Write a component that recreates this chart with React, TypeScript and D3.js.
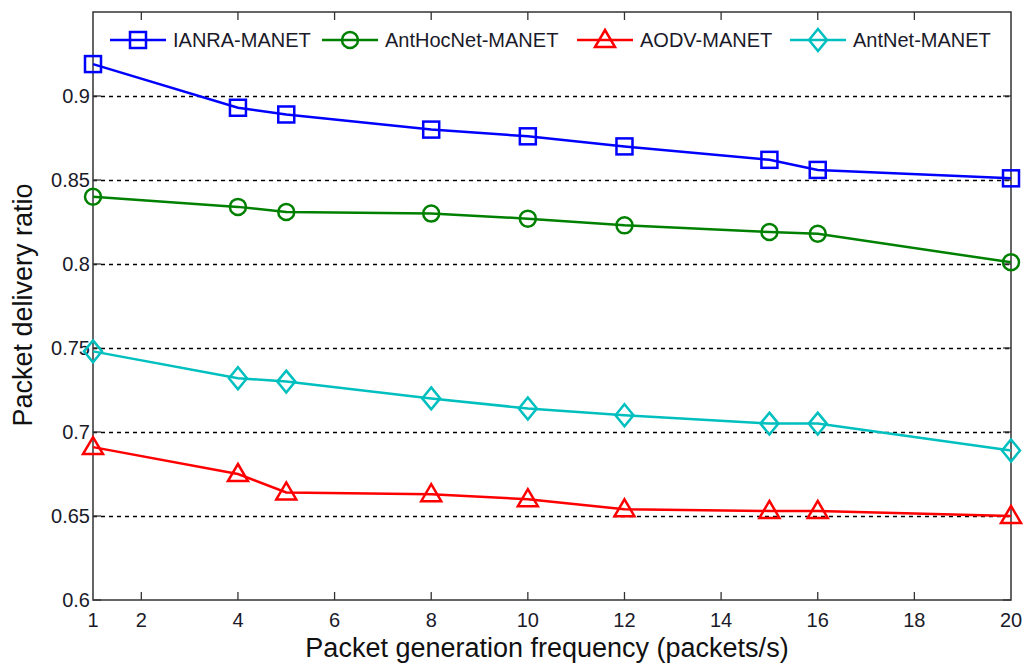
import * as d3 from "d3";
import { useEffect, useRef } from "react";

const xValues = [1, 4, 5, 8, 10, 12, 15, 16, 20];
const ianra = [0.919, 0.893, 0.889, 0.88, 0.876, 0.87, 0.862, 0.856, 0.851];
const antHocNet = [0.84, 0.834, 0.831, 0.83, 0.827, 0.823, 0.819, 0.818, 0.801];
const aodv = [0.691, 0.675, 0.664, 0.663, 0.66, 0.654, 0.653, 0.653, 0.65];
const antNet = [0.748, 0.732, 0.73, 0.72, 0.714, 0.71, 0.705, 0.705, 0.689];
const xTicks = [1, 2, 4, 6, 8, 10, 12, 14, 16, 18, 20];
const yTicks = [0.6, 0.65, 0.7, 0.75, 0.8, 0.85, 0.9];

const series = [
  { name: "IANRA-MANET", values: ianra, color: "#0000ff", marker: "square" },
  { name: "AntHocNet-MANET", values: antHocNet, color: "#008000", marker: "circle" },
  { name: "AODV-MANET", values: aodv, color: "#ff0000", marker: "triangle" },
  { name: "AntNet-MANET", values: antNet, color: "#00bfbf", marker: "diamond" },
];

function drawMarker(g: any, type: string, x: number, y: number, color: string) {
  if (type === "square") {
    g.append("rect").attr("x", x - 8).attr("y", y - 8).attr("width", 16).attr("height", 16)
      .attr("fill", "none").attr("stroke", color).attr("stroke-width", 2.5);
  } else if (type === "circle") {
    g.append("circle").attr("cx", x).attr("cy", y).attr("r", 8)
      .attr("fill", "none").attr("stroke", color).attr("stroke-width", 2.5);
  } else if (type === "triangle") {
    g.append("path").attr("d", `M${x},${y - 10}L${x + 10},${y + 7}L${x - 10},${y + 7}Z`)
      .attr("fill", "none").attr("stroke", color).attr("stroke-width", 2.5);
  } else {
    g.append("path").attr("d", `M${x},${y - 11}L${x + 9},${y}L${x},${y + 11}L${x - 9},${y}Z`)
      .attr("fill", "none").attr("stroke", color).attr("stroke-width", 2.5);
  }
}

export default function App() {
  const svgRef = useRef(null);

  useEffect(() => {
    const w = 1030;
    const h = 667;
    const m = { left: 93, right: 1011, top: 12, bottom: 600 };
    const svg = d3.select(svgRef.current);
    svg.selectAll("*").remove();
    svg.attr("width", w).attr("height", h).style("font-family", "'Liberation Sans', Arial, sans-serif");

    const x = d3.scaleLinear().domain([1, 20]).range([m.left, m.right]);
    const y = d3.scaleLinear().domain([0.6, 0.95]).range([m.bottom, m.top]);

    svg.append("rect").attr("width", w).attr("height", h).attr("fill", "#fff");

    // grid
    svg.append("g").selectAll("line").data(yTicks.filter((t) => t > 0.6)).enter().append("line")
      .attr("x1", m.left).attr("x2", m.right)
      .attr("y1", (d) => Math.round(y(d)) + 0.5).attr("y2", (d) => Math.round(y(d)) + 0.5)
      .attr("stroke", "#000").attr("stroke-width", 1.3).attr("stroke-dasharray", "4,4");

    // ticks inward
    const tg = svg.append("g").attr("stroke", "#333").attr("stroke-width", 1.3);
    xTicks.filter((t) => t > 1 && t < 20).forEach((t) => {
      tg.append("line").attr("x1", x(t)).attr("x2", x(t)).attr("y1", m.bottom).attr("y2", m.bottom - 8);
      tg.append("line").attr("x1", x(t)).attr("x2", x(t)).attr("y1", m.top).attr("y2", m.top + 8);
    });
    yTicks.forEach((t) => {
      tg.append("line").attr("x1", m.left).attr("x2", m.left + 8).attr("y1", y(t)).attr("y2", y(t));
      tg.append("line").attr("x1", m.right).attr("x2", m.right - 8).attr("y1", y(t)).attr("y2", y(t));
    });

    // frame
    svg.append("rect").attr("x", m.left).attr("y", m.top)
      .attr("width", m.right - m.left).attr("height", m.bottom - m.top)
      .attr("fill", "none").attr("stroke", "#333").attr("stroke-width", 1.5);

    // tick labels
    svg.append("g").selectAll("text").data(xTicks).enter().append("text")
      .attr("x", (d) => x(d)).attr("y", 627).attr("text-anchor", "middle")
      .attr("font-size", 20).attr("fill", "#1a1a2a").text((d) => d);
    svg.append("g").selectAll("text").data(yTicks).enter().append("text")
      .attr("x", m.left - 3).attr("y", (d) => y(d) + 7).attr("text-anchor", "end")
      .attr("font-size", 20).attr("fill", "#1a1a2a").text((d) => d3.format("")(+d.toFixed(2)));

    // axis labels
    svg.append("text").attr("x", 547).attr("y", 657).attr("text-anchor", "middle")
      .attr("font-size", 27).attr("fill", "#111").text("Packet generation frequency (packets/s)");
    svg.append("text").attr("transform", "translate(32,305) rotate(-90)").attr("text-anchor", "middle")
      .attr("font-size", 27).attr("fill", "#111").text("Packet delivery ratio");

    // lines and markers
    const line = d3.line<number>().x((_, i) => x(xValues[i])).y((d) => y(d));
    series.forEach((s) => {
      const g = svg.append("g");
      g.append("path").attr("d", line(s.values)).attr("fill", "none")
        .attr("stroke", s.color).attr("stroke-width", 2.5);
      s.values.forEach((v, i) => drawMarker(g, s.marker, x(xValues[i]), y(v), s.color));
    });

    // legend
    const legendX = [110, 322, 577, 790];
    series.forEach((s, i) => {
      const g = svg.append("g");
      const lx = legendX[i];
      g.append("line").attr("x1", lx).attr("x2", lx + 56).attr("y1", 40).attr("y2", 40)
        .attr("stroke", s.color).attr("stroke-width", 2.5);
      drawMarker(g, s.marker, lx + 28, 40, s.color);
      g.append("text").attr("x", lx + 63).attr("y", 47).attr("font-size", 20)
        .attr("fill", "#1a1a2a").text(s.name);
    });
  }, []);

  return <svg ref={svgRef} style={{ position: "absolute", left: 0, top: 0 }}></svg>;
}
